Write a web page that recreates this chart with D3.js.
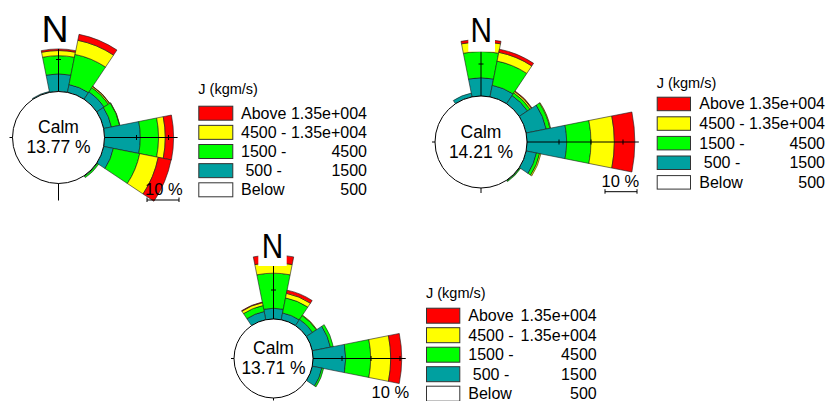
<!DOCTYPE html>
<html><head><meta charset="utf-8">
<script src="https://cdn.jsdelivr.net/npm/d3@7"></script>
<style>
body{margin:0;background:#fff}
svg{display:block}
text{font-family:"Liberation Sans",Arial,Helvetica,sans-serif;fill:#000}
</style>
</head><body>
<svg id="chart" width="829" height="401"></svg>
<script>
// ---------------- DATA ----------------
const directions = ["N","NNE","NE","ENE","E","ESE","SE","SSE","S","SSW","SW","WSW","W","WNW","NW","NNW"];
const classNames = ["500 - 1500","1500 - 4500","4500 - 1.35e+004","Above 1.35e+004"];

// Rose 1 (percent per direction, per J class)
const rose1Teal   = [5.5, 2.5, 2.8, 2.5, 11.2, 3.1, 0.2, 0, 0, 0, 0, 0, 0, 0, 0, 0.3];
const rose1Green  = [5.7, 9.6, 1.6, 2.6, 5.7, 8.4, 0.5, 0, 0, 0, 0, 0, 0, 0, 0, 0];
const rose1Yellow = [1.6, 4.5, 0.4, 0.1, 2.1, 5.9, 0, 0, 0, 0, 0, 0, 0, 0, 0, 0];
const rose1Red    = [0.5, 1.9, 0.1, 0, 2.6, 4.1, 0, 0, 0, 0, 0, 0, 0, 0, 0, 0];

// Rose 2
const rose2Teal   = [5.7, 3.7, 3.1, 6.4, 12.4, 3.3, 0.2, 0, 0, 0, 0, 0, 0, 0, 0, 1.2];
const rose2Green  = [8.2, 7.7, 1.0, 1.2, 7.6, 1.0, 0.3, 0, 0, 0, 0, 0, 0, 0, 0, 0];
const rose2Yellow = [3.0, 2.8, 0.5, 0.2, 7.3, 0.4, 0, 0, 0, 0, 0, 0, 0, 0, 0, 0];
const rose2Red    = [0.8, 1.0, 0.2, 0, 6.4, 0, 0, 0, 0, 0, 0, 0, 0, 0, 0, 0];

// Rose 3
const rose3Teal   = [3.7, 2.4, 2.6, 6.4, 11.3, 3.4, 0, 0, 0, 0, 0, 0, 0, 0, 0, 2.9];
const rose3Green  = [12.1, 5.3, 1.6, 1.0, 8.6, 0.6, 0, 0, 0, 0, 0, 0, 0, 0, 0, 2.1];
const rose3Yellow = [3.6, 1.6, 0.2, 0, 6.9, 0, 0, 0, 0, 0, 0, 0, 0, 0, 0, 1.0];
const rose3Red    = [2.7, 1.1, 0, 0, 3.8, 0, 0, 0, 0, 0, 0, 0, 0, 0, 0, 0.2];

const calmValues = [13.77, 14.21, 13.71];
const scaleBarValue = 10;

const legendTitle = "J (kgm/s)";
const legendLeft  = ["Above", "4500 -", "1500 -", " 500 -", "Below"];
const legendRight = ["1.35e+004", "1.35e+004", "4500", "1500", "500"];

// ---------------- STYLE / LAYOUT ----------------
const classColors = ["#00A0A0", "#00FF00", "#FFFF00", "#FF0000"];
const legendColors = ["#FF0000", "#FFFF00", "#00FF00", "#00A0A0", "#FFFFFF"];

const roses = [
  {series:[rose1Teal, rose1Green, rose1Yellow, rose1Red], calm:calmValues[0],
   cx:58.5, cy:137.5, r0:46, k:3.2, bottom:63, leftExt:3,
   nLabel:{x:55, y:42, size:37.5, sx:1, box:[40,4,30,42]},
   bar:{x:147, y:200, tx:145, ty:195},
   legend:{x:198.3, titleY:94.3, top:105.7, pitch:19.15, w:34, h:14, tx:241, rx:367}},
  {series:[rose2Teal, rose2Green, rose2Yellow, rose2Red], calm:calmValues[1],
   cx:481, cy:142, r0:46, k:3.2, bottom:51, leftExt:3,
   nLabel:{x:481.2, y:41.7, size:35, sx:0.85, box:[468.3,4,26.7,47.7]},
   bar:{x:605, y:191.7, tx:601.5, ty:186.7},
   legend:{x:656.7, titleY:88.3, top:96.7, pitch:19.6, w:33.3, h:13.5, tx:699.3, rx:825}},
  {series:[rose3Teal, rose3Green, rose3Yellow, rose3Red], calm:calmValues[2],
   cx:273.5, cy:358.5, r0:39.5, k:2.9, bottom:42, leftExt:3,
   nLabel:{x:272.5, y:258.3, size:35, sx:0.85, box:[258.3,225,28.4,41]},
   bar:{x:374, y:404, tx:371.5, ty:398.3},
   legend:{x:426, titleY:298.3, top:307.7, pitch:19.5, w:33.3, h:15, tx:468.3, rx:596.7}}
];

const svg = d3.select("#chart");
const sector = 2*Math.PI/directions.length;

roses.forEach(rose => {
  const g = svg.append("g");
  const r = d3.scaleLinear().domain([0, 10]).range([rose.r0, rose.r0 + 10*rose.k]);
  const arc = d3.arc();

  // build stacked segments
  const segs = [];
  let maxTotal = 0;
  directions.forEach((d, i) => {
    let cum = 0;
    rose.series.forEach((s, c) => {
      const v = s[i];
      if (v > 0) segs.push({i, c, from:cum, to:cum+v});
      cum += v;
    });
    maxTotal = Math.max(maxTotal, cum);
  });
  const nTotal = d3.sum(rose.series, s => s[0]);

  g.selectAll("path.seg").data(segs).join("path")
    .attr("class","seg")
    .attr("transform", `translate(${rose.cx},${rose.cy})`)
    .attr("d", s => arc({innerRadius:r(s.from), outerRadius:r(s.to),
                         startAngle:s.i*sector - sector/2, endAngle:s.i*sector + sector/2}))
    .attr("fill", s => classColors[s.c])
    .attr("stroke", "#1a1a1a").attr("stroke-width", 0.6);

  // axes
  const ax = g.append("g").attr("stroke","#000").attr("stroke-width",1);
  ax.append("line").attr("x1", rose.cx - rose.r0 - rose.leftExt).attr("x2", rose.cx + r(maxTotal) + 4)
    .attr("y1", rose.cy).attr("y2", rose.cy);
  ax.append("line").attr("x1", rose.cx).attr("x2", rose.cx)
    .attr("y1", rose.cy - r(nTotal)).attr("y2", rose.cy + rose.bottom);
  const ticksH = d3.range(10, maxTotal + 0.01, 10);
  ax.selectAll("line.th").data(ticksH).join("line").attr("class","th")
    .attr("x1", v => rose.cx + r(v)).attr("x2", v => rose.cx + r(v))
    .attr("y1", rose.cy - 2.5).attr("y2", rose.cy + 2.5);
  const ticksV = d3.range(10, nTotal + 0.01, 10);
  ax.selectAll("line.tv").data(ticksV).join("line").attr("class","tv")
    .attr("y1", v => rose.cy - r(v)).attr("y2", v => rose.cy - r(v))
    .attr("x1", rose.cx - 2.5).attr("x2", rose.cx + 2.5);

  // calm circle
  g.append("circle").attr("cx", rose.cx).attr("cy", rose.cy).attr("r", rose.r0)
    .attr("fill","#fff").attr("stroke","#000").attr("stroke-width",1);
  g.append("text").attr("x", rose.cx).attr("y", rose.cy - 4.5)
    .attr("text-anchor","middle").style("font-size","17.5px").text("Calm");
  g.append("text").attr("x", rose.cx).attr("y", rose.cy + 15.5)
    .attr("text-anchor","middle").style("font-size","17.5px").text(d3.format(".2f")(rose.calm) + " %");

  // N label with white background
  const nl = rose.nLabel;
  g.append("rect").attr("x", nl.box[0]).attr("y", nl.box[1]).attr("width", nl.box[2]).attr("height", nl.box[3])
    .attr("fill","#fff");
  g.append("text").attr("transform", `translate(${nl.x},${nl.y}) scale(${nl.sx},1)`)
    .attr("text-anchor","middle").style("font-size", nl.size + "px").text("N");

  // scale bar
  const b = rose.bar;
  const len = r(scaleBarValue) - r(0);
  const sb = g.append("g").attr("stroke","#000").attr("stroke-width",1);
  sb.append("line").attr("x1", b.x).attr("x2", b.x + len).attr("y1", b.y).attr("y2", b.y);
  sb.append("line").attr("x1", b.x).attr("x2", b.x).attr("y1", b.y - 2.5).attr("y2", b.y + 2);
  sb.append("line").attr("x1", b.x + len).attr("x2", b.x + len).attr("y1", b.y - 2.5).attr("y2", b.y + 2);
  g.append("text").attr("x", b.tx).attr("y", b.ty).style("font-size","16.5px").text(scaleBarValue + " %");

  // legend
  const L = rose.legend;
  const lg = svg.append("g");
  lg.append("text").attr("x", L.x).attr("y", L.titleY).style("font-size","14.5px").text(legendTitle);
  const rows = lg.selectAll("g.row").data(legendLeft).join("g").attr("class","row")
    .attr("transform", (d, i) => `translate(0,${L.top + i*L.pitch})`);
  rows.append("rect").attr("x", L.x + 0.5).attr("y", 0.5).attr("width", L.w).attr("height", L.h)
    .attr("fill", (d, i) => legendColors[i]).attr("stroke", "#333").attr("stroke-width", 1);
  rows.append("text").attr("x", L.tx).attr("y", L.h/2 + 6)
    .style("font-size","16px").style("white-space","pre").text(d => d);
  rows.append("text").attr("x", L.rx).attr("y", L.h/2 + 6).attr("text-anchor","end")
    .style("font-size","16px").text((d, i) => legendRight[i]);
});
</script>
</body></html>
